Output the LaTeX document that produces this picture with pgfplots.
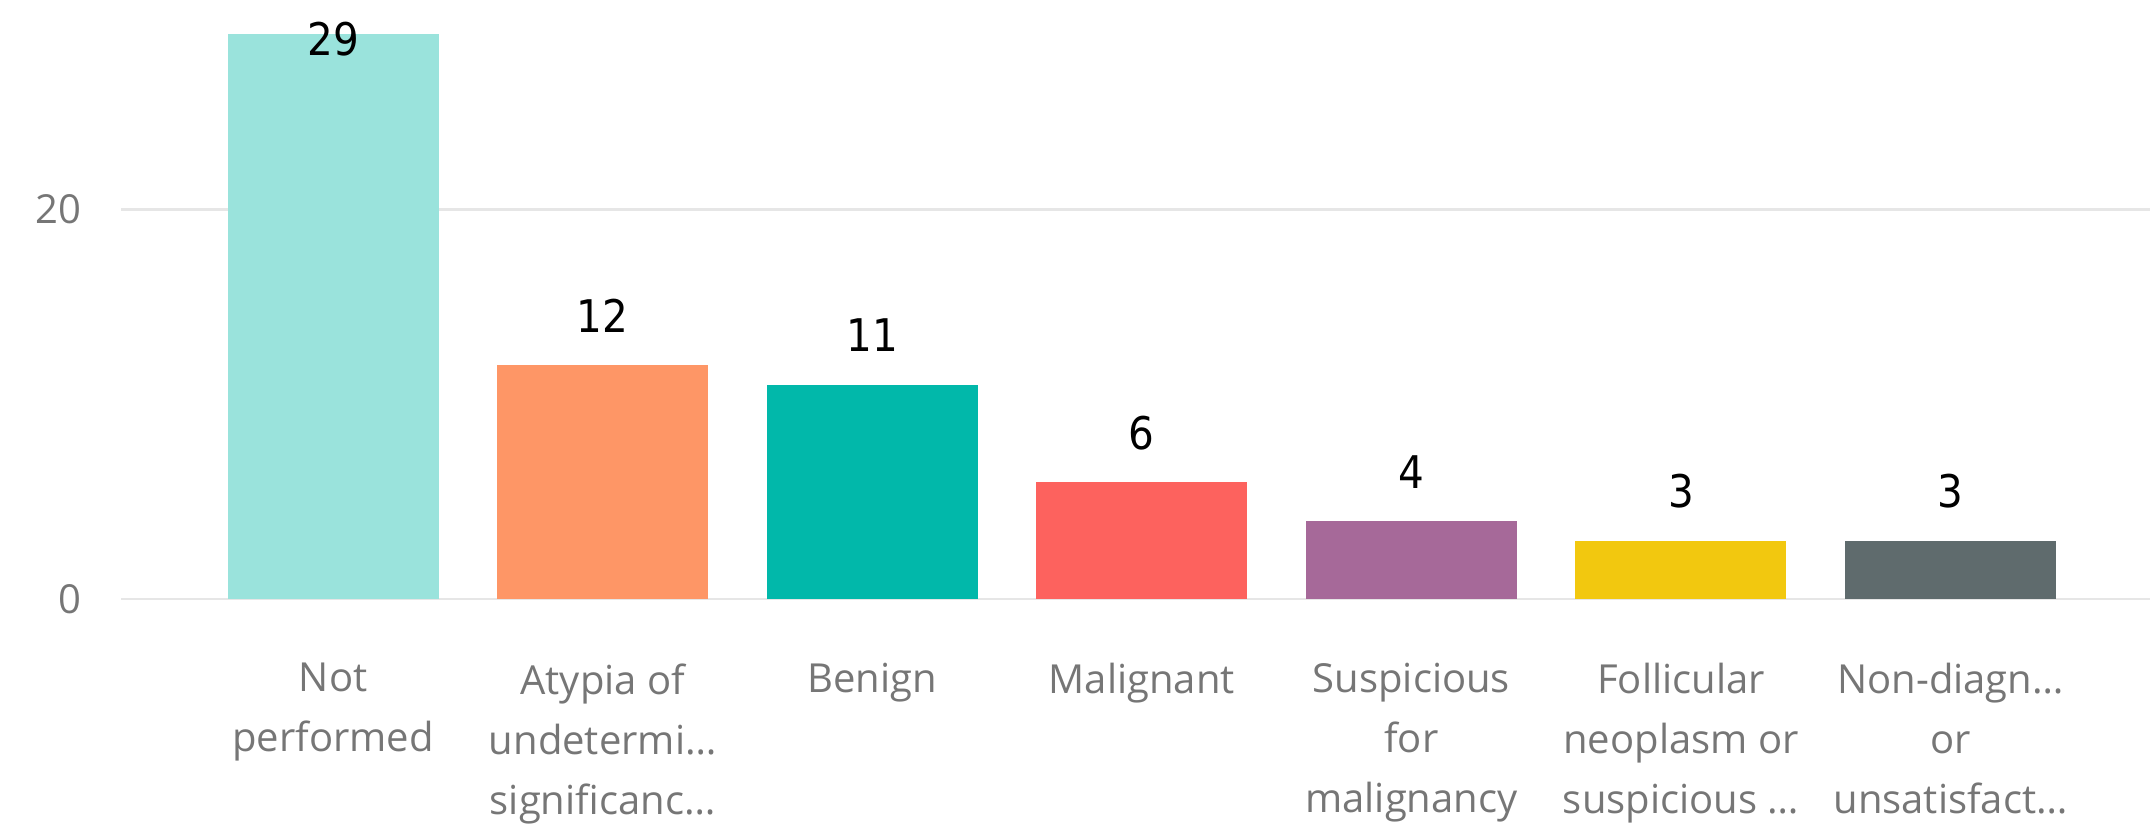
\documentclass[border=0pt]{standalone}
\usepackage{fontspec}
\setmainfont{Open Sans}
\newfontfamily\valfont{DejaVu Sans Condensed}
\usepackage{pgfplots}
\pgfplotsset{compat=1.18}
\definecolor{c1}{HTML}{9AE3DC}
\definecolor{c2}{HTML}{FE9666}
\definecolor{c3}{HTML}{01B8AA}
\definecolor{c4}{HTML}{FD625E}
\definecolor{c5}{HTML}{A66999}
\definecolor{c6}{HTML}{F2C80F}
\definecolor{c7}{HTML}{5F6B6D}
\definecolor{tickgray}{HTML}{767676}
\definecolor{gridgray}{HTML}{E6E6E6}
\begin{document}
\begin{tikzpicture}
\useasboundingbox (0,0) rectangle (1075pt,414pt);
\begin{axis}[
  at={(60.5pt,114.5pt)}, anchor=south west,
  scale only axis, width=1014.5pt, height=299.5pt,
  xmin=-0.787, xmax=6.74, ymin=0, ymax=30.75,
  axis line style={draw=none},
  ybar, bar width=105.5pt, bar shift=0pt,
  ytick={0,20}, major tick length=0pt,
  ymajorgrids, grid style={gridgray, line width=1.2pt},
  xtick={0,1,2,3,4,5,6},
  xticklabels={{Not\\performed},{Atypia of\\undetermi…\\significanc…},{Benign},{Malignant},{Suspicious\\for\\malignancy},{Follicular\\neoplasm or\\suspicious …},{Non-diagn…\\or\\unsatisfact…}},
  xticklabel style={anchor=north, inner sep=0pt, yshift=-32pt, align=center, font=\fontsize{20}{30}\selectfont, text=tickgray},
  yticklabel style={anchor=east, inner sep=0pt, xshift=-19.5pt, font=\fontsize{20}{24}\selectfont, text=tickgray},
  /pgf/number format/assume math mode=true,
  nodes near coords,
  every node near coord/.style={anchor=base, yshift=16.5pt, font=\valfont\fontsize{22.5}{26}\selectfont, text=black},
  clip=false,
]
\addplot[fill=c1, draw=none, every node near coord/.append style={yshift=-27pt}] coordinates {(0,29)};
\addplot[fill=c2, draw=none] coordinates {(1,12)};
\addplot[fill=c3, draw=none] coordinates {(2,11)};
\addplot[fill=c4, draw=none] coordinates {(3,6)};
\addplot[fill=c5, draw=none] coordinates {(4,4)};
\addplot[fill=c6, draw=none] coordinates {(5,3)};
\addplot[fill=c7, draw=none] coordinates {(6,3)};
\end{axis}
\end{tikzpicture}
\end{document}
